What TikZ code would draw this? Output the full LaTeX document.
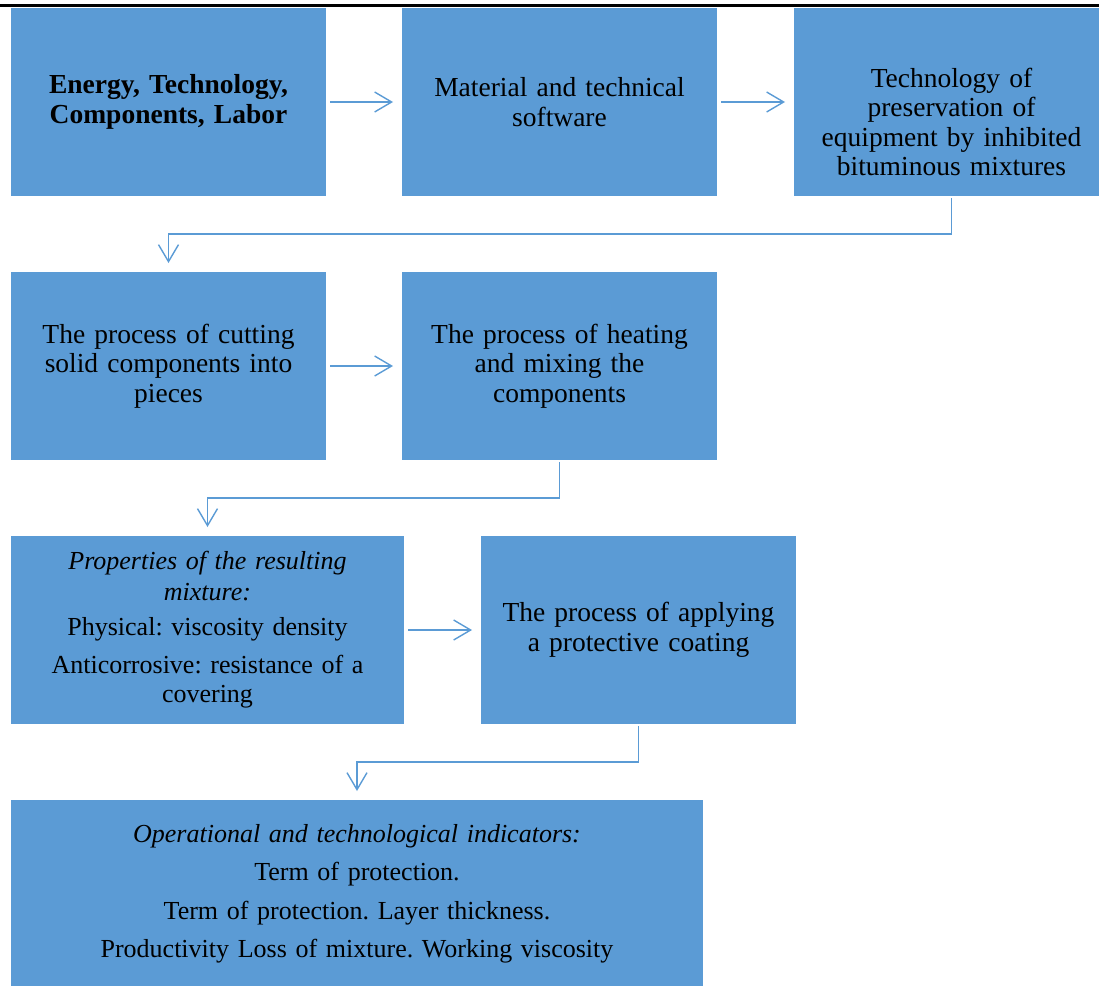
\documentclass[tikz,border=0pt]{standalone}
\usepackage{fontspec}
\setmainfont{Liberation Serif}
\usepackage{xcolor}
\usetikzlibrary{positioning,arrows.meta}
\definecolor{boxblue}{HTML}{5B9BD5}
\frenchspacing

\begin{document}
\begin{tikzpicture}[x=1pt, y=1pt, node distance=76pt,
    boxtext/.style={text width=#1, align=center, font=\fontsize{27.5}{29.5}\selectfont},
    boxtext/.default=280pt,
    box/.style={rectangle, fill=boxblue, minimum width=315pt, minimum height=188pt, inner sep=0pt, outer sep=0pt, boxtext=#1},
    box/.default=280pt,
    smalltext/.style={font=\fontsize{26}{29.5}\selectfont},
    flow/.style={draw=boxblue, line width=1.4pt, -{Straight Barb[length=17pt,width=20pt]}, shorten <=4pt, shorten >=9pt}]
    \useasboundingbox (0,0) rectangle (1099,-985);
    \draw[line width=3pt] (0,-5) -- (1099,-5);

    \node[box] (A) at (168.5,-102) {\textbf{Energy, Technology,}\\ \textbf{Components, Labor}};
    \node[box] (B) [right=of A] {Material and technical\\ software};
    \node[box] (C) [right=77pt of B] {};
    \node[boxtext] (Ctext) at ([yshift=-20pt]C.center) {Technology of\\ preservation of\\ equipment by inhibited\\ bituminous mixtures};

    \node[box] (D) [below=of A] {The process of cutting\\ solid components into\\ pieces};
    \node[box] (E) [right=of D] {The process of heating\\ and mixing the\\ components};

    \node[box=353pt, minimum width=393pt, smalltext] (F) [below right=76pt and 0pt of D.south west] {\textit{Properties of the resulting}\\[1pt] \textit{mixture:}\\[6pt] Physical: viscosity density\\[8pt] Anticorrosive: resistance of a\\ covering};
    \node[box] (G) [right=77pt of F] {The process of applying\\ a protective coating};

    \node[box=652pt, minimum width=692pt, smalltext] (H) [below right=76pt and 0pt of F.south west] {\textit{Operational and technological indicators:}\\[9pt] Term of protection.\\[9pt] Term of protection. Layer thickness.\\[9pt] Productivity Loss of mixture. Working viscosity};

    \draw[flow] (A) -- (B);
    \draw[flow] (B) -- (C);
    \draw[flow, shorten <=2pt] (C.south) -- ++(0,-38) -| (D.north);
    \draw[flow] (D) -- (E);
    \draw[flow, shorten <=2pt] (E.south) -- ++(0,-38) -| (F.north);
    \draw[flow] (F) -- (G);
    \draw[flow, shorten <=2pt] (G.south) -- ++(0,-38) -| (H.north);
\end{tikzpicture}
\end{document}
